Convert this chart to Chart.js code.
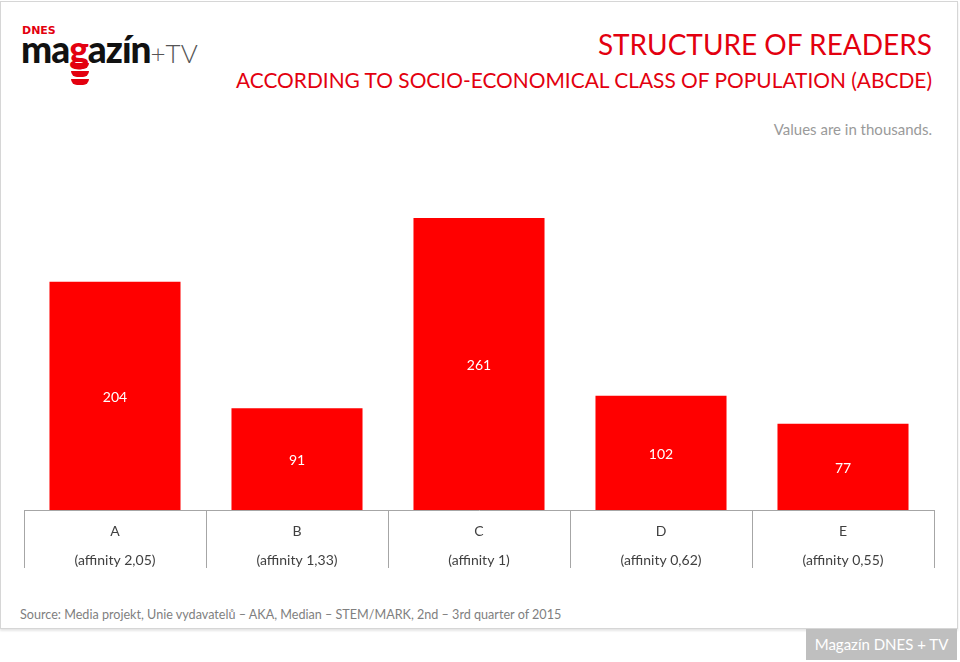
<!DOCTYPE html>
<html>
<head>
<meta charset="utf-8">
<script src="https://cdn.jsdelivr.net/npm/chart.js@4.4.0/dist/chart.umd.min.js"></script>
<style>
  body { margin: 0; width: 960px; height: 662px; background: #fff; position: relative; overflow: hidden;
         font-family: Lato, "Open Sans", sans-serif; }
  #frame { position: absolute; left: 0; top: 1px; width: 956px; height: 626px;
           border: 1px solid #d6d6d6; box-shadow: 0 2px 2px rgba(0,0,0,0.10); }
  .abs { position: absolute; white-space: nowrap; }
  #title { right: 28px; top: 28px; font-size: 28px; line-height: 1.2; color: #e3000f; }
  #subtitle { right: 28px; top: 67px; font-size: 20.9px; line-height: 1.2; color: #e3000f; }
  #note { right: 28px; top: 120px; font-size: 15px; line-height: 1.2; color: #9a9a9a; }
  #source { left: 20px; top: 607px; font-size: 12.6px; line-height: 1.2; color: #7f7f7f; }
  #badge { left: 806px; top: 629px; width: 151px; height: 31px; background: #bfbfbf; color: #fff;
           font-size: 15px; line-height: 31px; text-align: center; }
  #chartBox { position: absolute; left: 0; top: 180px; width: 960px; height: 410px; }
  /* logo */
  #dnes { left: 22px; top: 24px; font: 900 11px "DejaVu Sans", sans-serif; color: #e3000f; }
  #mag { left: 21px; top: 27px; font-size: 37px; font-weight: 900; color: #111; line-height: 1.2; letter-spacing: -1px; }
  #mag .g { color: #e3000f; }
  #mag .tv { font-weight: 300; color: #555; font-size: 26px; letter-spacing: 0; }
  .stripe { position: absolute; left: 71px; width: 18px; height: 6px; background: #e3000f;
            border-radius: 0 0 9px 9px; }
</style>
</head>
<body>
<div id="frame"></div>

<div class="abs" id="dnes">DNES</div>
<div class="abs" id="mag">ma<span class="g">g</span>azín<span class="tv">+TV</span></div>
<div class="stripe" style="top:63px"></div>
<div class="stripe" style="top:71px"></div>
<div class="stripe" style="top:79px"></div>

<div class="abs" id="title">STRUCTURE OF READERS</div>
<div class="abs" id="subtitle">ACCORDING TO SOCIO-ECONOMICAL CLASS OF POPULATION (ABCDE)</div>
<div class="abs" id="note">Values are in thousands.</div>

<div id="chartBox"><canvas id="readersChart"></canvas></div>

<div class="abs" id="source">Source: Media projekt, Unie vydavatelů – AKA, Median – STEM/MARK, 2nd – 3rd quarter of 2015</div>
<div class="abs" id="badge">Magazín DNES + TV</div>

<script>
// Data
const categories = ['A', 'B', 'C', 'D', 'E'];
const affinities = ['(affinity 2,05)', '(affinity 1,33)', '(affinity 1)', '(affinity 0,62)', '(affinity 0,55)'];
const readers = [204, 91, 261, 102, 77];

// Draw the short dividers under the axis between categories
const dividerPlugin = {
    id: 'dividers',
    afterDraw(chart) {
        const xScale = chart.scales.x;
        const ctx = chart.ctx;
        const bottom = chart.chartArea.bottom;
        const half = (xScale.getPixelForValue(1) - xScale.getPixelForValue(0)) / 2;
        ctx.save();
        ctx.strokeStyle = '#a6a6a6';
        ctx.lineWidth = 1;
        for (let i = 0; i <= categories.length; i++) {
            const px = Math.round(xScale.getPixelForValue(i) - half) + 0.5;
            ctx.beginPath();
            ctx.moveTo(px, bottom);
            ctx.lineTo(px, bottom + 58);
            ctx.stroke();
        }
        ctx.restore();
    }
};

// Value labels in the middle of each bar
const valueLabelPlugin = {
    id: 'valueLabels',
    afterDatasetsDraw(chart) {
        const ctx = chart.ctx;
        const meta = chart.getDatasetMeta(0);
        ctx.save();
        ctx.fillStyle = '#ffffff';
        ctx.font = '14px Lato, "Open Sans", sans-serif';
        ctx.textAlign = 'center';
        ctx.textBaseline = 'middle';
        meta.data.forEach((bar, i) => {
            ctx.fillText(String(readers[i]), bar.x, (bar.y + bar.base) / 2 + 1.5);
        });
        ctx.restore();
    }
};

const ctx = document.getElementById('readersChart').getContext('2d');
const readersChart = new Chart(ctx, {
    type: 'bar',
    data: {
        labels: categories.map((c, i) => [c, affinities[i]]),
        datasets: [{
            data: readers,
            backgroundColor: '#ff0000',
            borderWidth: 0,
            barPercentage: 0.72,
            categoryPercentage: 1.0
        }]
    },
    options: {
        responsive: true,
        maintainAspectRatio: false,
        animation: false,
        layout: { padding: { left: 24, right: 26, top: 20, bottom: 0 } },
        plugins: {
            legend: { display: false },
            tooltip: { enabled: false }
        },
        scales: {
            x: {
                grid: { display: false },
                border: { display: true, color: '#a6a6a6', width: 1 },
                ticks: {
                    color: '#404040',
                    font: { family: 'Lato, "Open Sans", sans-serif', size: 14, lineHeight: 29 / 14 },
                    padding: -1,
                    maxRotation: 0,
                    autoSkip: false
                },
                afterFit(scale) { scale.height = 80; }
            },
            y: {
                display: false,
                min: 0,
                max: 277
            }
        }
    },
    plugins: [dividerPlugin, valueLabelPlugin]
});
</script>
</body>
</html>
